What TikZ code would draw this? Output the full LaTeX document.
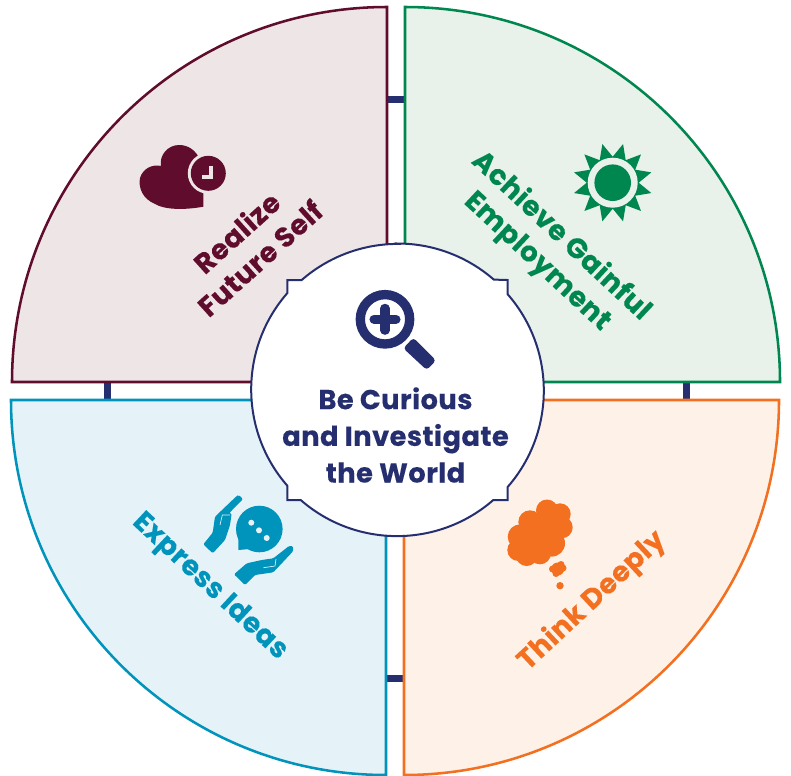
\documentclass[tikz,border=0pt]{standalone}
\usepackage{fontspec}
\setmainfont{Poppins}[BoldFeatures={FakeBold=0.2,LetterSpace=1.5}]
\definecolor{maroon}{HTML}{600D2D}
\definecolor{maroontint}{HTML}{EEE6E6}
\definecolor{leaf}{HTML}{00874F}
\definecolor{leaftint}{HTML}{E8F1EA}
\definecolor{sky}{HTML}{0093BB}
\definecolor{skytint}{HTML}{E5F3F8}
\definecolor{tang}{HTML}{F37021}
\definecolor{tangtint}{HTML}{FDF1E8}
\definecolor{navy}{HTML}{252E6E}
\tikzset{
  sector/.style={line width=1.9pt,line join=miter},
  bar/.style={navy,line width=5.25pt},
  petal/.style={font=\bfseries\fontsize{21}{26}\selectfont,align=center},
  hub/.style={font=\bfseries\fontsize{20.5}{27.5}\selectfont,text=navy,align=center}
}
\begin{document}
\begin{tikzpicture}[x=0.75pt,y=-0.75pt]
\useasboundingbox (0,0) rectangle (791,775);
% links between the quarters
\draw[bar] (387,99.5) -- (405,99.5);
\draw[bar] (107,382) -- (107,400);
\draw[bar] (686,382) -- (686,400);
\draw[bar] (386,678) -- (404,678);
% quarters
\draw[sector,draw=maroon,fill=maroontint] (387,382) -- (12,382) arc (180:270:375) -- cycle;
\draw[sector,draw=leaf,fill=leaftint] (405,382) -- (780,382) arc (0:-90:375) -- cycle;
\draw[sector,draw=sky,fill=skytint] (386,400) -- (11,400) arc (180:90:375) -- cycle;
\draw[sector,draw=tang,fill=tangtint] (404,400) -- (779,400) arc (0:90:375) -- cycle;
% centre
\draw[navy,fill=white,line width=1.5pt,line join=miter]
  (397.5,243.5) arc (-90:-48.9:146.5) -- (507.7,280) -- (507.7,294.3)
  arc (-41.1:41.1:146.5) -- (507.7,500) -- (493.3,500)
  arc (48.9:131.1:146.5) -- (287.3,500) -- (287.3,485.7)
  arc (138.9:221.1:146.5) -- (287.3,280) -- (301.7,280)
  arc (228.9:270:146.5) -- cycle;
% magnifier
\draw[navy,line width=7pt] (385,319.3) circle (24.7);
\draw[navy,line width=6.8pt,line cap=round] (374,319.3) -- (396,319.3);
\draw[navy,line width=6.8pt,line cap=round] (385,308.3) -- (385,330.3);
\fill[navy,rounded corners=2.5pt] (413.3,337.7) -- (436,360.5) -- (426.7,370) -- (403.3,348.3) -- cycle;
\node[hub] (hubLabel) at (395.5,435) {Be Curious\\and Investigate\\the World};
% heart and clock
\fill[maroon] (203.3,206.7) .. controls (185,210) and (165,210) .. (155,204)
  .. controls (143,199) and (138,188) .. (140,178)
  .. controls (143,168) and (153,164) .. (161,166)
  .. controls (159,155) and (168,145) .. (179,145)
  .. controls (188,145) and (196,150) .. (200,160) -- (203.3,190) -- cycle;
\fill[maroontint] (208.3,173.3) circle (20.5);
\fill[maroon] (208.3,173.3) circle (17.5);
\draw[maroontint,line width=3pt,line join=miter] (211,166) -- (211,177) -- (202,177);
\node[petal,text=maroon,rotate=42] (selfLabel) at (248,245) {Realize\\Future Self};
% sun
\fill[leaf,shift={(612.7,182.7)}] (15:40)
  \foreach \a in {30,60,...,360} { -- (\a:26) -- (\a+15:40) } -- cycle;
\fill[leaftint] (612.7,182.7) circle (25);
\fill[leaf] (612.7,182.7) circle (18.3);
\node[petal,text=leaf,rotate=-43] (jobLabel) at (549,249) {Achieve Gainful\\Employment};
% bubble and hands
\fill[sky] (259.3,529) circle (23.3);
\fill[sky] (238.3,550) -- (238.3,537) -- (250,549) -- cycle;
\foreach \px/\py in {251.3/522.7,259/530.3,266.7/538}
  \fill[skytint] (\px,\py) circle (3);
\fill[sky,rounded corners=1pt] (203.3,544.3) -- (212.7,553.3) -- (225,540) -- (230,525) -- (231.7,513.3) -- (229,513.3) -- (243,499) -- (238.7,495) -- (236.7,496) -- (215,516.7) -- (212.7,532.7) -- cycle;
\draw[skytint,line width=0.5pt] (220,525) -- (222.3,515) -- (230,515);
\fill[sky,rounded corners=1pt] (234,574.3) -- (245,585) -- (255,575) -- (273.3,572.3) -- (293.3,551) -- (293,546) -- (289,546) -- (273.3,558.3) -- (261.7,560) -- (246.7,563.3) -- cycle;
\draw[skytint,line width=0.5pt] (263.3,567.7) -- (275,566) -- (276,559);
\node[petal,text=sky,rotate=-43] (ideasLabel) at (209.5,587) {Express Ideas};
% thought cloud
\foreach \cx/\cy/\cr in {547/510.5/11,560/514/10.7,561.7/527.3/11,530/522/11.7,520/536.7/12.3,518.3/550/11,526.7/555/11,540/553.3/11,551.7/543.3/13.3,538/533.3/20}
  \fill[tang] (\cx,\cy) circle (\cr);
\foreach \cx/\cy/\cr in {557.7/569/6.5,561/564.5/3.5,556/573.5/3.5,552.5/569/3.5,563/568/3.5}
  \fill[tang] (\cx,\cy) circle (\cr);
\fill[tang] (560,585.7) circle (3.7);
\node[petal,text=tang,rotate=43] (thinkLabel) at (592,601) {Think Deeply};
\end{tikzpicture}
\end{document}
